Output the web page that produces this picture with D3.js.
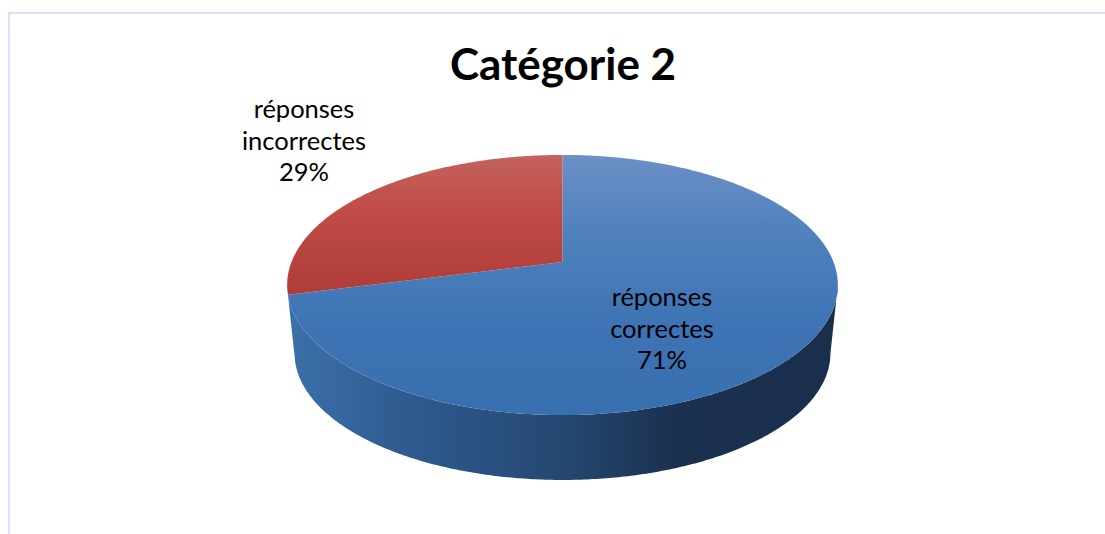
<!DOCTYPE html>
<html>
<head>
<meta charset="utf-8">
<script src="https://cdn.jsdelivr.net/npm/d3@7"></script>
<style>
  html, body { margin: 0; padding: 0; background: #fff; overflow: hidden; }
  svg { display: block; }
  text { font-family: Lato, "Open Sans", sans-serif; fill: #000; }
</style>
</head>
<body>
<div id="chart"></div>
<script>
const chartTitle = "Catégorie 2";
const categories = ["réponses correctes", "réponses incorrectes"];
const values = [71, 29];
const labelLines = [["réponses", "correctes", "71%"], ["réponses", "incorrectes", "29%"]];

const width = 1105, height = 534;

// perspective of the tilted disc
const cx = 562.5, apexY = 262;   // where the slices meet on the top face
const rX = 271, rY = 126;
const persp = 0.177;             // the front of the disc is closer to the viewer
const depth = 69;                // drop of the lower rim
const shrink = 0.973;            // lower rim looks a bit narrower

const svg = d3.select("#chart").append("svg")
  .attr("width", width)
  .attr("height", height);

const defs = svg.append("defs");

function addGradient(id, x1, y1, x2, y2, stops) {
  const g = defs.append("linearGradient")
    .attr("id", id)
    .attr("gradientUnits", "userSpaceOnUse")
    .attr("x1", x1).attr("y1", y1).attr("x2", x2).attr("y2", y2);
  stops.forEach(s => g.append("stop").attr("offset", s[0]).attr("stop-color", s[1]));
}

addGradient("topBlue", 0, 155, 0, 415, [[0, "#6b90c6"], [0.3, "#4f81bd"], [0.65, "#3e74b5"], [1, "#386fae"]]);
addGradient("topRed", 0, 155, 0, 295, [[0, "#c4635f"], [0.4, "#c04b47"], [1, "#af3c38"]]);
addGradient("wallBlue", 290, 0, 835, 0, [[0, "#3c70a8"], [0.2, "#2f5c91"], [0.52, "#24466f"], [0.7, "#1b3150"], [1, "#1a2f4c"]]);

// pie angle -> screen point, scale 1 is the top rim, the other one the lower rim
function project(angle, lower) {
  const u = Math.sin(angle), v = -Math.cos(angle);
  const w = 1 - persp * v;
  const s = lower ? shrink : 1;
  const y0 = lower ? apexY + depth : apexY;
  return [cx + s * rX * u / w, y0 + s * rY * v / w];
}

function arcPoints(a0, a1, lower) {
  const n = Math.max(2, Math.ceil(Math.abs(a1 - a0) / 0.01));
  return d3.range(n + 1).map(i => project(a0 + (a1 - a0) * i / n, lower));
}

const pie = d3.pie().sort(null).value(d => d)(values);
const line = d3.line();

// side wall, only the front part of the big slice can be seen
const wallStart = Math.acos(-persp);
const wallEnd = pie[0].endAngle;
const wallPts = arcPoints(wallStart, wallEnd, false)
  .concat(arcPoints(wallEnd, wallStart, true));
svg.append("path")
  .attr("d", line(wallPts) + "Z")
  .attr("fill", "url(#wallBlue)");

// top face
svg.selectAll("path.slice")
  .data(pie)
  .join("path")
  .attr("class", "slice")
  .attr("d", d => line([[cx, apexY]].concat(arcPoints(d.startAngle, d.endAngle, false))) + "Z")
  .attr("fill", (d, i) => i === 0 ? "url(#topBlue)" : "url(#topRed)");

// frame of the chart area, only top and left are in the crop
const frame = "#d5e3f5";
svg.append("rect").attr("x", 8).attr("y", 12).attr("width", width - 8).attr("height", 2).attr("fill", frame);
svg.append("rect").attr("x", 8).attr("y", 12).attr("width", 2).attr("height", height - 12).attr("fill", frame);

svg.append("text")
  .attr("x", 563)
  .attr("y", 80)
  .attr("text-anchor", "middle")
  .attr("font-size", 44)
  .attr("font-weight", 700)
  .text(chartTitle);

const labelPos = [[662, 306], [304, 118]];
const lineStep = 31.5;

labelLines.forEach((lines, i) => {
  svg.append("text")
    .attr("text-anchor", "middle")
    .attr("font-size", 25.5)
    .selectAll("tspan")
    .data(lines)
    .join("tspan")
    .attr("x", labelPos[i][0])
    .attr("y", (d, j) => labelPos[i][1] + j * lineStep)
    .text(d => d);
});
</script>
</body>
</html>
